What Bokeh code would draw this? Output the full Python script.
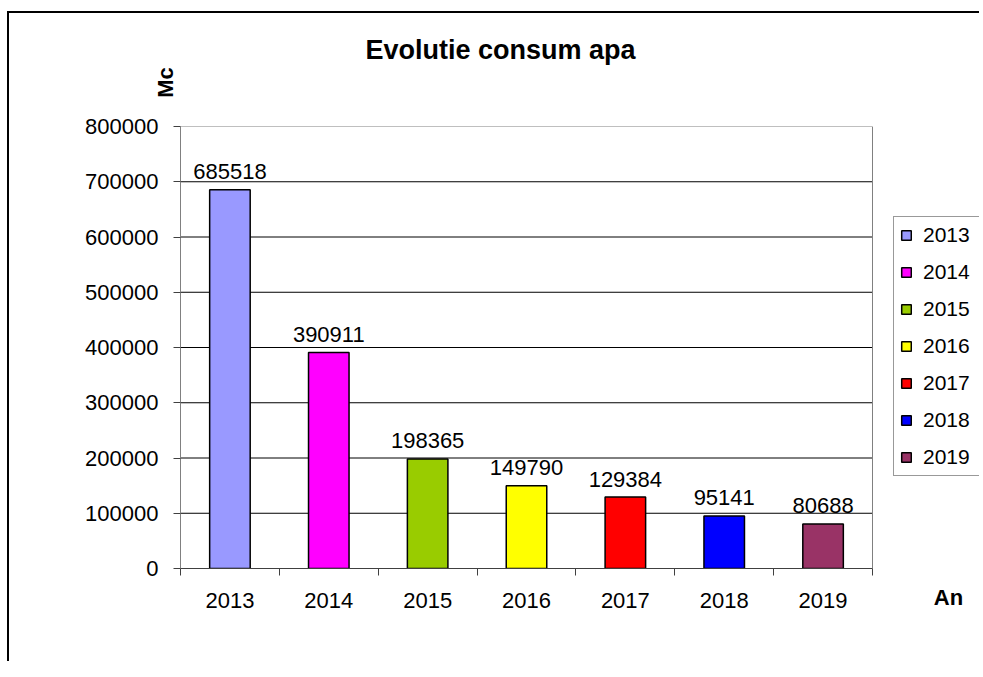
from bokeh.plotting import figure
from bokeh.models import (ColumnDataSource, FixedTicker, Label, Range1d,
                          NumeralTickFormatter)
from bokeh.core.properties import value
from bokeh.embed import file_html
from bokeh.resources import INLINE
import math

# ---- data ----
years = ["2013", "2014", "2015", "2016", "2017", "2018", "2019"]
consum = [685518, 390911, 198365, 149790, 129384, 95141, 80688]
bar_colors = ["#9999FF", "#FF00FF", "#99CC00", "#FFFF00", "#FF0000", "#0000FF", "#993366"]
y_ticks = [0, 100000, 200000, 300000, 400000, 500000, 600000, 700000, 800000]
title_text = "Evolutie consum apa"
y_title = "Mc"
x_title = "An"

FONT = "Liberation Sans"

# ---- layout constants (pixels) ----
W, H = 970, 650
LEFT, TOP = 171, 113
FRAME_H = 442
BOTTOM = H - TOP - FRAME_H
PLOT_W = 692                       # width of the drawn plot area
FRAME_W = W - LEFT                 # frame extends to the right edge (room for legend)
n = len(years)

xpos = [i + 0.5 for i in range(n)]
src = ColumnDataSource(dict(x=xpos, consum=consum, year=years, color=bar_colors,
                            lbl=[str(v) for v in consum]))

p = figure(width=W, height=H, output_backend="svg", toolbar_location=None,
           title=None,
           x_range=Range1d(0, n * FRAME_W / PLOT_W), y_range=Range1d(y_ticks[0], y_ticks[-1]),
           min_border_left=LEFT, min_border_right=0, min_border_top=TOP,
           min_border_bottom=BOTTOM)
p.styles = {"margin-left": "9px", "margin-top": "13px", "vertical-align": "top",
            "box-shadow": "-2px -2px 0 0 black, 0 -2px 0 0 black"}
p.background_fill_color = "white"
p.border_fill_color = "white"
p.outline_line_color = None
p.xgrid.visible = False
p.ygrid.visible = False

# grid lines limited to the plot area
inner = y_ticks[1:-1]
p.segment(x0=[0] * len(inner), x1=[n] * len(inner), y0=inner, y1=inner,
          line_color="black", line_width=1)
p.segment(x0=[0], x1=[n], y0=[y_ticks[-1]], y1=[y_ticks[-1]],
          line_color="#808080", line_width=1)
p.segment(x0=[n], x1=[n], y0=[y_ticks[0]], y1=[y_ticks[-1]],
          line_color="#808080", line_width=1)

p.vbar(x="x", top="consum", width=0.41, fill_color="color", line_color="black",
       line_width=1.5, source=src, legend_field="year")

p.text(x="x", y="consum", text="lbl", source=src, text_align="center",
       text_baseline="alphabetic", y_offset=-18, text_font=value(FONT),
       text_font_size="22px", text_color="black")

# x axis
xax = p.xaxis[0]
xax.bounds = (0, n)
xax.ticker = FixedTicker(ticks=xpos, minor_ticks=list(range(n + 1)))
xax.major_label_overrides = {x: y for x, y in zip(xpos, years)}
xax.major_tick_out = 0
xax.major_tick_in = 0
xax.minor_tick_out = 7
xax.minor_tick_in = 0
xax.minor_tick_line_color = "#404040"
xax.axis_line_color = "#404040"
xax.major_label_text_font = FONT
xax.major_label_text_font_size = "22px"
xax.major_label_text_color = "black"
xax.major_label_standoff = 17

# y axis
yax = p.yaxis[0]
yax.ticker = FixedTicker(ticks=y_ticks, minor_ticks=[])
yax.formatter = NumeralTickFormatter(format="0")
yax.major_tick_out = 7
yax.major_tick_in = 0
yax.major_tick_line_color = "#404040"
yax.axis_line_color = "#808080"
yax.major_label_text_font = FONT
yax.major_label_text_font_size = "22px"
yax.major_label_text_color = "black"
yax.major_label_standoff = 15

# legend (inside the extended frame, cut by the right edge like the reference)
lg = p.legend[0]
lg.location = (713, 92)
lg.label_text_font = FONT
lg.label_text_font_size = "21px"
lg.label_text_color = "black"
lg.glyph_width = 12
lg.glyph_height = 12
lg.label_height = 24
lg.label_width = 64
lg.spacing = 13
lg.padding = 6
lg.margin = 0
lg.label_standoff = 11
lg.border_line_color = "#333333"
lg.border_line_width = 1
lg.background_fill_color = "white"
lg.background_fill_alpha = 1

# texts placed in the panel above the frame
p.add_layout(Label(x=320, y=77, x_units="screen", y_units="screen", text=title_text,
                   text_font=FONT, text_font_size="27px", text_font_style="bold",
                   text_color="black",
                   text_align="center", text_baseline="alphabetic"), "above")
p.add_layout(Label(x=-15, y=14, x_units="screen", y_units="screen", text=y_title,
                   angle=math.pi / 2, text_font=FONT, text_font_size="22px",
                   text_color="black",
                   text_font_style="bold", text_align="center", text_baseline="middle"),
             "above")
p.add_layout(Label(x=768, y=-532, x_units="screen", y_units="screen", text=x_title,
                   text_font=FONT, text_font_size="22px", text_font_style="bold",
                   text_color="black",
                   text_align="center", text_baseline="alphabetic"), "above")

open("out.html", "w").write(file_html(p, INLINE))
